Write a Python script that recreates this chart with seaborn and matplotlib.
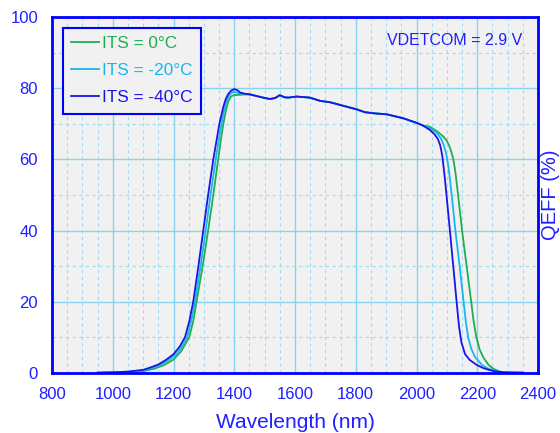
import matplotlib
matplotlib.use("Agg")
import matplotlib.pyplot as plt
from matplotlib.ticker import MultipleLocator
from matplotlib.lines import Line2D
import seaborn as sns
import pandas as pd

plt.rcParams['font.family'] = ['Liberation Sans', 'DejaVu Sans']

series_names = ["ITS = 0°C", "ITS = -20°C", "ITS = -40°C"]
series_colors = ["#1fae52", "#18b6ee", "#1a14e6"]

# plateau shared by all curves (overlapping)
plateau_wl = [1452, 1490, 1517, 1535, 1550, 1565, 1578, 1605, 1649, 1682, 1715,
              1759, 1803, 1830, 1858, 1902, 1956, 2000, 2020]
plateau_qe = [78.3, 77.5, 77.0, 77.3, 78.1, 77.5, 77.4, 77.7, 77.4, 76.5, 76.1,
              75.1, 74.1, 73.3, 73.0, 72.7, 71.6, 70.3, 69.6]

# ITS = 0°C (green)
green_rise_wl = [950, 1000, 1050, 1100, 1140, 1170, 1200, 1225, 1252, 1265, 1276,
                 1296, 1314, 1331, 1347, 1356, 1364, 1372, 1380, 1390, 1400, 1420, 1436]
green_rise_qe = [0.0, 0.1, 0.2, 0.4, 1.2, 2.2, 3.7, 6.0, 10, 14.5, 20,
                 30, 40, 50, 60, 65.5, 70, 73.5, 76.3, 77.8, 78.1, 78.2, 78.3]
green_fall_wl = [2044, 2070, 2090, 2100, 2108, 2115, 2121, 2128, 2137, 2150, 2165,
                 2180, 2188, 2197, 2208, 2220, 2237, 2253, 2275, 2300, 2350]
green_fall_qe = [69.2, 67.8, 66.3, 65.2, 63.8, 62.0, 60.2, 56.5, 50, 40, 30,
                 20, 14.5, 10, 6.5, 4.3, 2.2, 1.1, 0.3, 0.05, 0.0]

# ITS = -20°C (cyan)
cyan_rise_wl = [950, 1000, 1050, 1100, 1130, 1160, 1190, 1212, 1230, 1245, 1258, 1271,
                1289, 1306, 1322, 1339, 1350, 1358, 1366, 1376, 1386, 1396, 1410, 1430]
cyan_rise_qe = [0.0, 0.1, 0.3, 0.6, 1.3, 2.3, 3.9, 5.5, 7.6, 10, 14.5, 20,
                30, 40, 50, 60, 66, 70, 73.5, 76.6, 78.4, 79.0, 78.8, 78.4]
cyan_fall_wl = [2044, 2066, 2080, 2090, 2098, 2105, 2112, 2119, 2128, 2142, 2155,
                2163, 2170, 2180, 2192, 2215, 2235, 2255, 2280, 2300, 2350]
cyan_fall_qe = [68.8, 67.5, 66.0, 64.0, 61.5, 58.0, 53.0, 47.5, 40, 30, 20,
                14, 10, 6.8, 4.5, 2.2, 1.2, 0.6, 0.2, 0.05, 0.0]

# ITS = -40°C (blue)
blue_rise_wl = [950, 1000, 1050, 1100, 1125, 1150, 1175, 1200, 1220, 1238, 1252, 1265,
                1282, 1298, 1314, 1331, 1343, 1351, 1364, 1372, 1380, 1390, 1400,
                1410, 1420, 1435]
blue_rise_qe = [0.0, 0.1, 0.3, 0.8, 1.5, 2.3, 3.6, 5.2, 7.3, 10, 14.5, 20,
                30, 40, 50, 60, 66, 70, 74.8, 77.0, 78.4, 79.4, 79.8,
                79.5, 78.8, 78.5]
blue_fall_wl = [2044, 2060, 2070, 2078, 2085, 2093, 2101, 2110, 2121, 2132, 2140,
                2148, 2160, 2175, 2198, 2220, 2242, 2265, 2290, 2350]
blue_fall_qe = [68.3, 67.0, 65.8, 64.0, 61.0, 55.0, 48.0, 40, 30, 20, 13,
                8.5, 5.2, 3.6, 2.2, 1.3, 0.7, 0.3, 0.1, 0.0]

x_ticks = [800, 1000, 1200, 1400, 1600, 1800, 2000, 2200, 2400]
y_ticks = [0, 20, 40, 60, 80, 100]

rows = []
parts = [
    (series_names[0], green_rise_wl + plateau_wl + green_fall_wl,
     green_rise_qe + plateau_qe + green_fall_qe),
    (series_names[1], cyan_rise_wl + plateau_wl + cyan_fall_wl,
     cyan_rise_qe + plateau_qe + cyan_fall_qe),
    (series_names[2], blue_rise_wl + plateau_wl + blue_fall_wl,
     blue_rise_qe + plateau_qe + blue_fall_qe),
]
for name, wl, qe in parts:
    for w, q in zip(wl, qe):
        rows.append({"Wavelength": w, "QEFF": q, "series": name})
df = pd.DataFrame(rows)

fig = plt.figure(figsize=(5.6, 4.33), dpi=100)
ax = fig.add_axes([52/560, 1-372.7/433, 486/560, 355.4/433])
ax.set_facecolor("#f1f1f1")

blue_txt = "#1f1fff"
ax.xaxis.set_major_locator(MultipleLocator(200))
ax.xaxis.set_minor_locator(MultipleLocator(50))
ax.yaxis.set_major_locator(MultipleLocator(20))
ax.yaxis.set_minor_locator(MultipleLocator(10))
ax.grid(which="major", color="#86d3f0", lw=1.0, ls="-", zorder=0)
ax.grid(which="minor", color="#9edcf4", lw=0.8, ls=(0, (3, 3)), zorder=0)
ax.set_axisbelow(True)

sns.lineplot(data=df, x="Wavelength", y="QEFF", hue="series",
             hue_order=series_names, palette=dict(zip(series_names, series_colors)),
             estimator=None, sort=False, lw=1.3, ax=ax, legend=False)

ax.set_xlim(800, 2400)
ax.set_ylim(0, 100)
ax.set_xticks(x_ticks)
ax.set_yticks(y_ticks)
ax.tick_params(which="both", length=0, colors=blue_txt, labelsize=12)
ax.tick_params(axis="x", pad=10)
ax.tick_params(axis="y", pad=10)
for s in ax.spines.values():
    s.set_color("#0000ff")
    s.set_linewidth(2)

ax.set_xlabel("Wavelength (nm)", fontsize=15, color=blue_txt, labelpad=8)
ax.set_ylabel("")
fig.text(559.5/560, 1 - 195/433, "QEFF (%)", rotation=90,
         ha="right", va="center", fontsize=14.5, color=blue_txt)

handles = [Line2D([], [], color=c, lw=1.3) for c in series_colors]
leg = ax.legend(handles, series_names, loc="upper left", bbox_to_anchor=(0.022, 0.971),
                borderaxespad=0, fontsize=12.4, frameon=True, fancybox=False,
                framealpha=1, facecolor="#f1f1f1", edgecolor="#0000ff",
                handlelength=1.6, handletextpad=0.2, labelspacing=0.7,
                borderpad=0.5)
leg.get_frame().set_linewidth(1.5)
for t, c in zip(leg.get_texts(), series_colors):
    t.set_color(c)

ax.text(0.9685, 0.936, "VDETCOM = 2.9 V", transform=ax.transAxes, ha="right",
        va="center", fontsize=11.5, color=blue_txt)

fig.savefig("out.png", dpi=100)
